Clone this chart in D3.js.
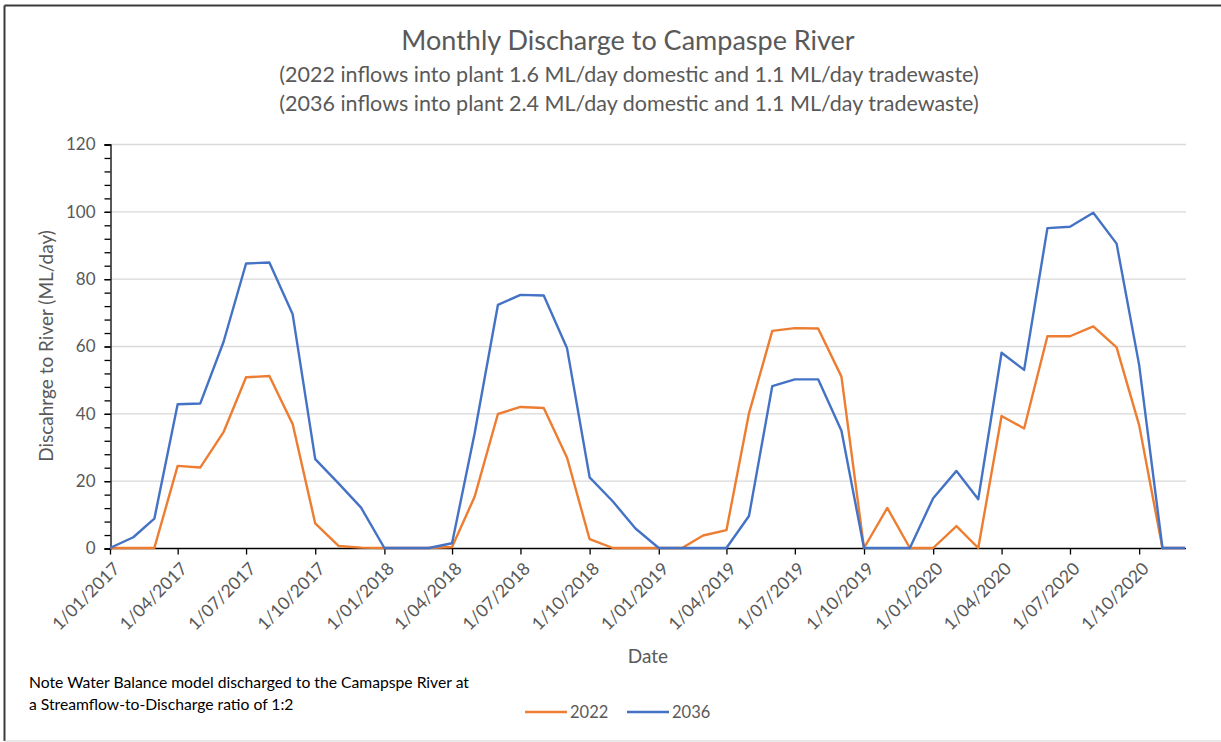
<!DOCTYPE html>
<html>
<head>
<meta charset="utf-8">
<script src="https://cdn.jsdelivr.net/npm/d3@7"></script>
<style>
  body { margin: 0; background: #fff; }
  text { font-family: Lato, "Open Sans", sans-serif; }
</style>
</head>
<body>
<div class="chart"></div>
<script>
// monthly values, Jan 2017 .. Dec 2020
var months = [];
for (var i = 0; i < 48; i++) {
	months.push(new Date(2017, i, 1));
}

var series2022 = [
	0, 0, 0, 24.4, 23.9, 34.4, 50.7, 51.1, 36.8, 7.3, 0.6, 0.1,
	0, 0, 0, 0.3, 15.2, 39.8, 41.9, 41.6, 26.8, 2.6, 0, 0,
	0, 0, 3.7, 5.3, 40, 64.5, 65.3, 65.2, 50.9, 0, 11.9, 0,
	0, 6.5, 0, 39.2, 35.5, 62.9, 62.9, 65.8, 59.6, 36.5, 0, 0
];
var series2036 = [
	0, 3.2, 8.7, 42.7, 42.9, 61.2, 84.5, 84.8, 69.4, 26.4, 19.2, 12.0,
	0, 0, 0, 1.4, 34, 72.2, 75.2, 75.0, 59.3, 21.0, 13.8, 5.8,
	0, 0, 0, 0, 9.5, 48.1, 50.1, 50.1, 34.8, 0, 0, 0,
	14.8, 22.9, 14.5, 58.0, 52.9, 95.0, 95.4, 99.6, 90.4, 54.4, 0, 0
];
var seriesNames = ["2022", "2036"];
var seriesColors = ["#ED7D31", "#4472C4"];
var yTicks = [0, 20, 40, 60, 80, 100, 120];

var w = 1221, h = 742;
var padLeft = 110, padRight = 1185, padTop = 144, padBottom = 548;

var svg = d3.select(".chart").append("svg")
	.attr("width", w)
	.attr("height", h);

// chart border
svg.append("line").attr("x1", 4.5).attr("x2", w).attr("y1", 5.5).attr("y2", 5.5)
	.attr("stroke", "#3a3a3a").attr("stroke-width", 2);
svg.append("line").attr("x1", 4.5).attr("x2", 4.5).attr("y1", 5.5).attr("y2", 741)
	.attr("stroke", "#3a3a3a").attr("stroke-width", 2);
svg.append("line").attr("x1", 4.5).attr("x2", w).attr("y1", 741).attr("y2", 741)
	.attr("stroke", "#d0d0d0").attr("stroke-width", 1);

var x = d3.scaleTime()
	.domain([months[0], months[months.length - 1]])
	.range([padLeft, padRight]);

var y = d3.scaleLinear()
	.domain([0, 120])
	.range([padBottom, padTop]);

// gridlines
svg.append("g")
	.selectAll("line")
	.data(yTicks.slice(1))
	.enter()
	.append("line")
	.attr("x1", padLeft)
	.attr("x2", padRight + 1)
	.attr("y1", d => y(d) + 0.5)
	.attr("y2", d => y(d) + 0.5)
	.attr("stroke", "#d9d9d9")
	.attr("stroke-width", 1.3);

// y axis with minor ticks
var yMinor = d3.range(0, 121, 4);
var yAxisMinor = d3.axisLeft(y).tickValues(yMinor).tickSize(6).tickFormat(function () { return null; });
var gyMinor = svg.append("g")
	.attr("transform", "translate(" + (padLeft + 0.5) + ",0.5)")
	.call(yAxisMinor);
gyMinor.select(".domain").remove();
gyMinor.selectAll("line").attr("stroke", "#000").attr("stroke-width", 1.3);

var yAxis = d3.axisLeft(y).tickValues(yTicks).tickSize(6).tickPadding(9);
var gy = svg.append("g")
	.attr("transform", "translate(" + (padLeft + 0.5) + ",0.5)")
	.call(yAxis);
gy.select(".domain").attr("stroke", "#000").attr("stroke-width", 1.3);
gy.selectAll("line").attr("stroke", "#000").attr("stroke-width", 1.3);
gy.selectAll("text")
	.attr("fill", "#595959")
	.style("font-size", "17px")
	.style("font-family", "Lato, sans-serif");

// x axis (quarterly ticks)
var xTicks = d3.timeMonth.every(3).range(months[0], months[months.length - 1]);
var xAxis = d3.axisBottom(x)
	.tickValues(xTicks)
	.tickSize(6)
	.tickFormat(d3.timeFormat("%-d/%m/%Y"));
var gx = svg.append("g")
	.attr("transform", "translate(0," + (padBottom + 0.5) + ")")
	.call(xAxis);
gx.select(".domain").attr("d", "M" + padLeft + ",0H" + (padRight + 1)).attr("stroke", "#000").attr("stroke-width", 1.3);
gx.selectAll("line").attr("stroke", "#000").attr("stroke-width", 1.3);
gx.selectAll("text")
	.attr("fill", "#595959")
	.style("font-size", "17.5px")
	.style("font-family", "Lato, sans-serif")
	.attr("text-anchor", "end")
	.attr("y", 0)
	.attr("dy", "0.35em")
	.attr("transform", "translate(6,17) rotate(-45)");

// lines
var line = d3.line()
	.x(function (d, i) { return x(months[i]); })
	.y(function (d) { return y(d); });

[series2022, series2036].forEach(function (s, k) {
	svg.append("path")
		.datum(s)
		.attr("fill", "none")
		.attr("stroke", seriesColors[k])
		.attr("stroke-width", 2.4)
		.attr("stroke-linejoin", "round")
		.attr("d", line);
});

// titles
svg.append("text")
	.attr("x", 628).attr("y", 50)
	.attr("text-anchor", "middle")
	.attr("fill", "#595959")
	.style("font-size", "27px")
	.text("Monthly Discharge to Campaspe River");
svg.append("text")
	.attr("x", 629).attr("y", 82)
	.attr("text-anchor", "middle")
	.attr("fill", "#595959")
	.style("font-size", "21.5px")
	.text("(2022 inflows into plant 1.6 ML/day domestic and 1.1 ML/day tradewaste)");
svg.append("text")
	.attr("x", 629).attr("y", 111)
	.attr("text-anchor", "middle")
	.attr("fill", "#595959")
	.style("font-size", "21.5px")
	.text("(2036 inflows into plant 2.4 ML/day domestic and 1.1 ML/day tradewaste)");

// axis titles
svg.append("text")
	.attr("transform", "translate(53," + ((padTop + padBottom) / 2) + ") rotate(-90)")
	.attr("text-anchor", "middle")
	.attr("fill", "#595959")
	.style("font-size", "19px")
	.text("Discahrge to River (ML/day)");
svg.append("text")
	.attr("x", 648).attr("y", 663)
	.attr("text-anchor", "middle")
	.attr("fill", "#595959")
	.style("font-size", "19px")
	.text("Date");

// note
svg.append("text")
	.attr("x", 29).attr("y", 688)
	.attr("fill", "#000")
	.style("font-size", "15.7px")
	.text("Note Water Balance model discharged to the Camapspe River at");
svg.append("text")
	.attr("x", 29).attr("y", 710)
	.attr("fill", "#000")
	.style("font-size", "15.7px")
	.text("a Streamflow-to-Discharge ratio of 1:2");

// legend
var legendX = [525, 627];
seriesNames.forEach(function (name, k) {
	var g = svg.append("g").attr("transform", "translate(" + legendX[k] + ",712)");
	g.append("line")
		.attr("x1", 0).attr("x2", 42)
		.attr("stroke", seriesColors[k])
		.attr("stroke-width", 2.4);
	g.append("text")
		.attr("x", 45).attr("dy", "0.35em")
		.attr("fill", "#595959")
		.style("font-size", "16.5px")
		.text(name);
});
</script>
</body>
</html>
